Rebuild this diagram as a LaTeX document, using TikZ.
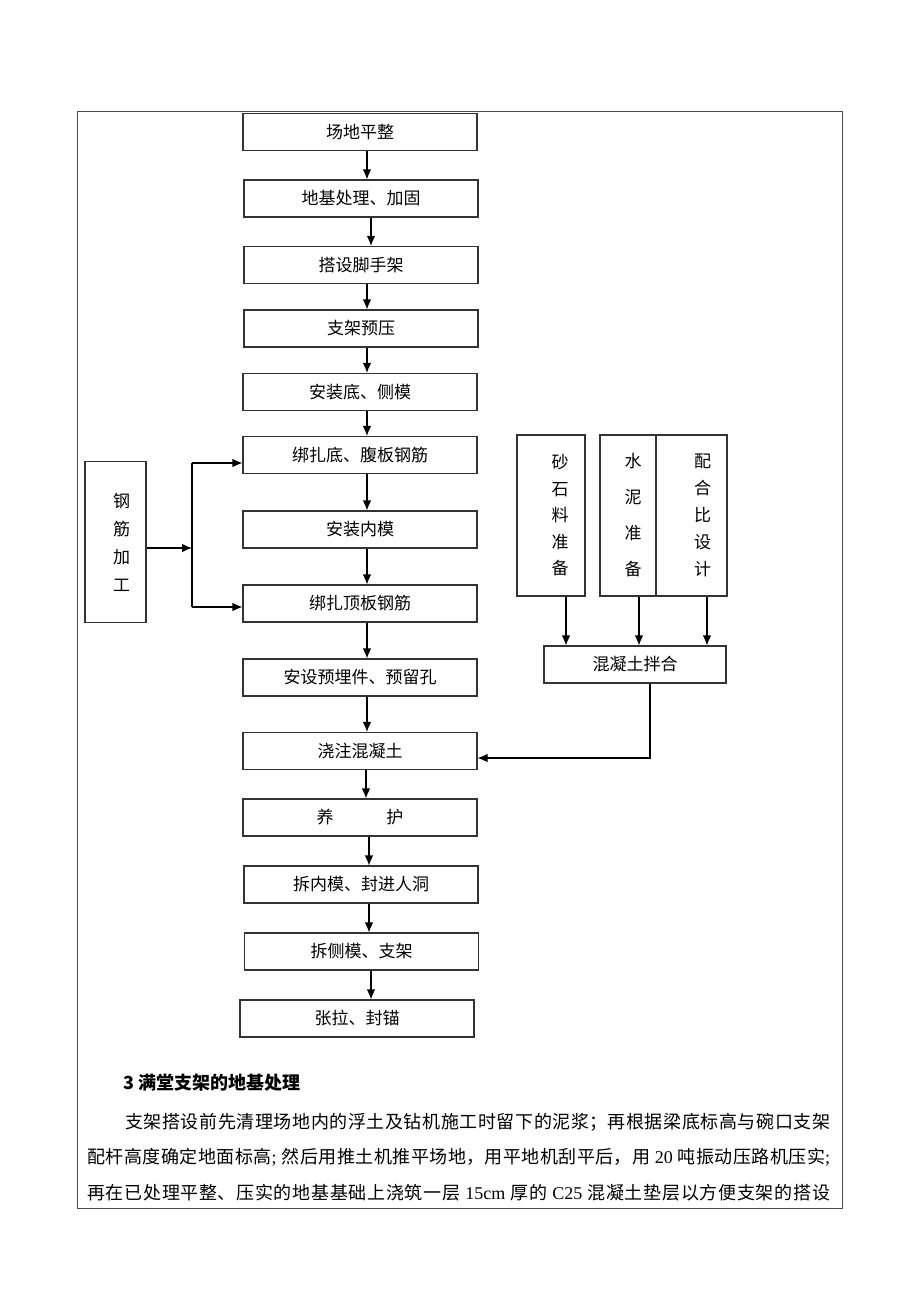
\documentclass[tikz,border=0pt]{standalone}
\usepackage{fontspec}
\setmainfont{Liberation Serif}
\newfontfamily\cjk{Noto Sans CJK SC}
\usetikzlibrary{arrows.meta}
\XeTeXlinebreaklocale "zh"
\XeTeXlinebreakskip=0pt plus 3pt
\newcommand\ltn[1]{{\rmfamily #1}}

\begin{document}
\begin{tikzpicture}[
  x=1pt, y=-1pt,
  box/.style={draw=black!80, line width=1.1pt, minimum width=234pt, minimum height=37pt, inner sep=0pt, font=\cjk\fontsize{17}{20}\selectfont},
  tall/.style={box, minimum width=#1, minimum height=161pt, align=center},
  arr/.style={-{Latex[length=10pt,width=8.5pt]}, line width=1.1pt},
  para/.style={anchor=west, inner sep=0pt, align=justify, font=\cjk\fontsize{18}{22}\selectfont, execute at begin node={\parfillskip=0pt}}
]
\useasboundingbox (0,0) rectangle (920,1302);
\draw[black!70, line width=0.9pt] (77,111) rectangle (842,1208);

% main line
\node[box] (s1) at (360,132) {场地平整};
\node[box] (s2) at (361,198.5) {地基处理、加固};
\node[box] (s3) at (361,265) {搭设脚手架};
\node[box] (s4) at (361,328.5) {支架预压};
\node[box] (s5) at (360,392) {安装底、侧模};
\node[box] (s6) at (360,455) {绑扎底、腹板钢筋};
\node[box] (s7) at (360,529.5) {安装内模};
\node[box] (s8) at (360,603.5) {绑扎顶板钢筋};
\node[box] (s9) at (360,677.5) {安设预埋件、预留孔};
\node[box] (s10) at (360,751) {浇注混凝土};
\node[box] (s11) at (360,817.5) {养\hspace{3.1em}护};
\node[box] (s12) at (361,884.5) {拆内模、封进人洞};
\node[box] (s13) at (361.5,951.5) {拆侧模、支架};
\node[box] (s14) at (357,1018.5) {张拉、封锚};
\foreach \u/\v/\dx in {s1/s2/7, s2/s3/10, s3/s4/6, s4/s5/6, s5/s6/7, s6/s7/7, s7/s8/7,
    s8/s9/7, s9/s10/7, s10/s11/6, s11/s12/9, s12/s13/8, s13/s14/9.5}
  \draw[arr] ([xshift=\dx pt]\u.south) -- ([xshift=\dx pt]\u.south |- \v.north);

% rebar
\node[tall=61pt, font=\cjk\fontsize{17}{28}\selectfont] (gj) at (115.5,542) {\hspace*{12pt}钢\\\hspace*{12pt}筋\\\hspace*{12pt}加\\\hspace*{12pt}工};
\coordinate (jt) at (192,463);
\coordinate (jm) at (192,548);
\coordinate (jb) at (192,607);
\draw[line width=1.1pt] (jt) -- (jb);
\draw[arr] (gj.east |- jm) -- (jm);
\draw[arr] (jt) -- (jt -| s6.west);
\draw[arr] (jb) -- (jb -| s8.west);

% concrete
\node[tall=68pt, font=\cjk\fontsize{17}{26.5}\selectfont] (sl) at (551,515.5) {\hspace*{18pt}砂\\\hspace*{18pt}石\\\hspace*{18pt}料\\\hspace*{18pt}准\\\hspace*{18pt}备};
\node[tall=56pt, font=\cjk\fontsize{17}{36}\selectfont] (sn) at (628,515.5) {\hspace*{10pt}水\\\hspace*{10pt}泥\\\hspace*{10pt}准\\\hspace*{10pt}备};
\node[tall=71pt, font=\cjk\fontsize{17}{27}\selectfont] (ph) at (691.5,515.5) {\hspace*{22pt}配\\\hspace*{22pt}合\\\hspace*{22pt}比\\\hspace*{22pt}设\\\hspace*{22pt}计};
\node[box, minimum width=182pt] (hn) at (635,664.5) {混凝土拌合};
\foreach \n/\dx in {sl/15, sn/11, ph/15.5}
  \draw[arr] ([xshift=\dx pt]\n.south) -- ([xshift=\dx pt]\n.south |- hn.north);
\coordinate (hc) at (650,758);
\draw[arr] (hn.south -| hc) -- (hc) -- (hc -| s10.east);

% text below
\node[anchor=west, inner sep=0pt, font=\cjk\bfseries\fontsize{18}{22}\selectfont] (title) at (123,1083) {3 满堂支架的地基处理};
\node[para, text width=705pt] (p1) at (125,1122) {支架搭设前先清理场地内的浮土及钻机施工时留下的泥浆；再根据梁底标高与碗口支架};
\node[para, text width=743pt] (p2) at (87,1157) {配杆高度确定地面标高\ltn{; }然后用推土机推平场地，用平地机刮平后，用\ltn{ 20 }吨振动压路机压实\ltn{;}};
\node[para, text width=743pt] (p3) at (87,1193) {再在已处理平整、压实的地基基础上浇筑一层\ltn{ 15cm }厚的\ltn{ C25 }混凝土垫层以方便支架的搭设};
\end{tikzpicture}
\end{document}
